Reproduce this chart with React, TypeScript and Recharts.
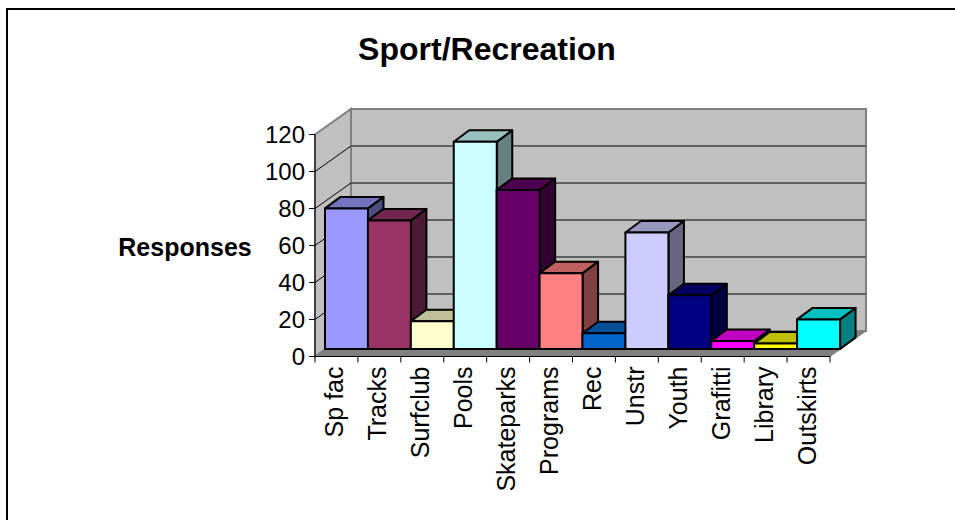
import React from 'react';
import { BarChart, Bar, XAxis, YAxis, CartesianGrid } from 'recharts';

const categories = ['Sp fac', 'Tracks', 'Surfclub', 'Pools', 'Skateparks', 'Programs', 'Rec', 'Unstr', 'Youth', 'Grafitti', 'Library', 'Outskirts'];
const responses = [76, 69.5, 15, 112, 86, 41, 8.5, 63, 29, 4.3, 3, 16];
const barColors = ['#9999FF', '#993366', '#FFFFCC', '#CCFFFF', '#660066', '#FF8080', '#0066CC', '#CCCCFF', '#000080', '#FF00FF', '#FFFF00', '#00FFFF'];
const yTicks = [0, 20, 40, 60, 80, 100, 120];

const chartData = categories.map((name, i) => ({ name, responses: responses[i] }));

const FONT = '"Liberation Sans", Arial, sans-serif';
const PLOT_TOP = 134.5;
const PLOT_BOTTOM = 356.5;
const WALL_DX = 36;
const WALL_DY = 25.5;
const BAR_OFFSET_X = 10;
const BAR_OFFSET_Y = 7.5;
const DEPTH_X = 15.5;
const DEPTH_Y = 11.5;

const shade = (hex: string, f: number) => {
  const n = parseInt(hex.slice(1), 16);
  const c = [(n >> 16) & 255, (n >> 8) & 255, n & 255].map(v => Math.round(v * f));
  return `rgb(${c[0]},${c[1]},${c[2]})`;
};

// the grid layer sits under the bars, so the 3d walls go in with the first grid line
const Walls = ({ x, r }: { x: number; r: number }) => {
  const y = PLOT_TOP;
  const b = PLOT_BOTTOM;
  return (
    <g>
      <polygon points={`${x + WALL_DX},${y - WALL_DY} ${r + WALL_DX},${y - WALL_DY} ${r + WALL_DX},${b - WALL_DY} ${x + WALL_DX},${b - WALL_DY}`} fill="#C0C0C0" stroke="#808080" strokeWidth={2} />
      <polygon points={`${x},${y} ${x + WALL_DX},${y - WALL_DY} ${x + WALL_DX},${b - WALL_DY} ${x},${b}`} fill="#C0C0C0" stroke="#808080" strokeWidth={2} />
      <polygon points={`${x},${b} ${x + WALL_DX},${b - WALL_DY} ${r + WALL_DX},${b - WALL_DY} ${r},${b}`} fill="#808080" stroke="#808080" />
    </g>
  );
};

const GridLine = (props: any) => {
  const { x1, x2, y1, index } = props;
  const isEdge = Math.abs(y1 - PLOT_BOTTOM) < 1 || Math.abs(y1 - PLOT_TOP) < 1;
  return (
    <g>
      {index === 0 && <Walls x={x1} r={x2} />}
      {!isEdge && (
        <g>
          <line x1={x1} y1={y1} x2={x1 + WALL_DX} y2={y1 - WALL_DY} stroke="#000" strokeWidth={1} />
          <line x1={x1 + WALL_DX} y1={y1 - WALL_DY} x2={x2 + WALL_DX} y2={y1 - WALL_DY} stroke="#606060" strokeWidth={2} />
        </g>
      )}
    </g>
  );
};

const Box3D = (props: any) => {
  const { x, y, width, height, index } = props;
  const color = barColors[index];
  const l = x + BAR_OFFSET_X;
  const r = l + width;
  const t = y - BAR_OFFSET_Y;
  const b = t + height;
  const common = { stroke: '#000', strokeWidth: 2, strokeLinejoin: 'round' as const };
  return (
    <g>
      <polygon points={`${r},${t} ${r + DEPTH_X},${t - DEPTH_Y} ${r + DEPTH_X},${b - DEPTH_Y} ${r},${b}`} fill={shade(color, 0.5)} {...common} />
      <polygon points={`${l},${t} ${l + DEPTH_X},${t - DEPTH_Y} ${r + DEPTH_X},${t - DEPTH_Y} ${r},${t}`} fill={shade(color, 0.75)} {...common} />
      <rect x={l} y={t} width={width} height={height} fill={color} {...common} />
    </g>
  );
};

const CategoryTick = (props: any) => {
  const { x, payload, index } = props;
  const step = 515 / categories.length;
  return (
    <g>
      <line x1={x - step / 2} y1={PLOT_BOTTOM} x2={x - step / 2} y2={PLOT_BOTTOM + 6} stroke="#000" />
      {index === categories.length - 1 && <line x1={x + step / 2} y1={PLOT_BOTTOM} x2={x + step / 2} y2={PLOT_BOTTOM + 6} stroke="#000" />}
      <text transform={`translate(${x + 7},366.5) rotate(-90)`} textAnchor="end" fontFamily={FONT} fontSize={25} fill="#000">
        {payload.value}
      </text>
    </g>
  );
};

export default function App() {
  return (
    <div style={{ position: 'absolute', left: 0, top: 0, width: 955, height: 520, overflow: 'hidden', background: '#fff' }}>
      <div style={{ position: 'absolute', left: 6, top: 8, width: 960, height: 530, borderLeft: '2px solid #000', borderTop: '2px solid #000' }} />
      <BarChart
        width={955}
        height={520}
        data={chartData}
        barCategoryGap={0}
        margin={{ top: PLOT_TOP, right: 125, bottom: 0, left: 255 }}
        style={{ position: 'absolute', left: 0, top: 0 }}
      >
        <CartesianGrid vertical={false} horizontal={GridLine as any} />
        <XAxis dataKey="name" interval={0} height={163.5} tick={CategoryTick as any} tickLine={false} axisLine={{ stroke: '#000' }} />
        <YAxis
          width={60}
          domain={[0, 120]}
          ticks={yTicks}
          interval={0}
          tickSize={6}
          tickMargin={4}
          axisLine={{ stroke: '#000' }}
          tickLine={{ stroke: '#000' }}
          tick={{ fill: '#000', fontSize: 24, fontFamily: FONT }}
        />
        <Bar dataKey="responses" shape={Box3D as any} isAnimationActive={false} />
        <text x={487} y={60} textAnchor="middle" fontFamily={FONT} fontWeight="bold" fontSize={32} fill="#000">Sport/Recreation</text>
        <text x={185} y={256} textAnchor="middle" fontFamily={FONT} fontWeight="bold" fontSize={25} fill="#000">Responses</text>
      </BarChart>
    </div>
  );
}
